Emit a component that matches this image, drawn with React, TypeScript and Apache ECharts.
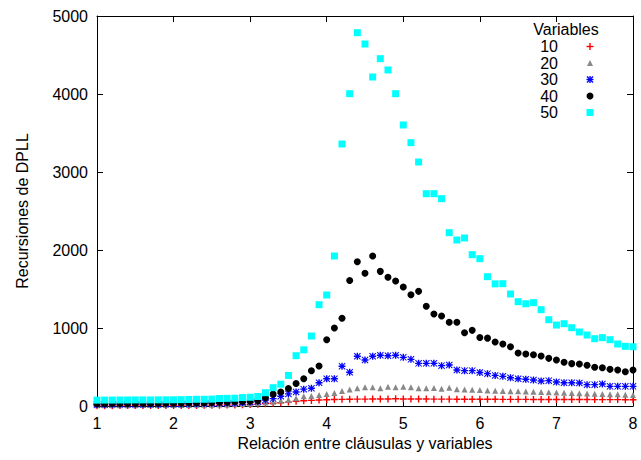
import React, { useEffect, useRef } from "react";
import * as echarts from "echarts";

const ratios = [
  1.0, 1.1, 1.2, 1.3, 1.4, 1.5, 1.6, 1.7, 1.8, 1.9,
  2.0, 2.1, 2.2, 2.3, 2.4, 2.5, 2.6, 2.7, 2.8, 2.9,
  3.0, 3.1, 3.2, 3.3, 3.4, 3.5, 3.6, 3.7, 3.8, 3.9,
  4.0, 4.1, 4.2, 4.3, 4.4, 4.5, 4.6, 4.7, 4.8, 4.9,
  5.0, 5.1, 5.2, 5.3, 5.4, 5.5, 5.6, 5.7, 5.8, 5.9,
  6.0, 6.1, 6.2, 6.3, 6.4, 6.5, 6.6, 6.7, 6.8, 6.9,
  7.0, 7.1, 7.2, 7.3, 7.4, 7.5, 7.6, 7.7, 7.8, 7.9,
  8.0,
];

const vars10 = [
  4, 4, 4, 5, 5, 5, 5, 6, 6, 6,
  7, 7, 8, 8, 9, 10, 11, 12, 14, 16,
  20, 24, 30, 36, 42, 50, 60, 68, 72, 76,
  80, 83, 85, 86, 88, 88, 89, 89, 90, 92,
  90, 90, 89, 89, 88, 88, 88, 87, 87, 87,
  86, 86, 86, 85, 85, 85, 85, 84, 84, 84,
  84, 83, 83, 83, 83, 82, 82, 82, 82, 81,
  81,
];

const vars20 = [
  10, 10, 10, 11, 11, 11, 12, 12, 12, 13,
  13, 14, 14, 15, 16, 17, 18, 20, 22, 25,
  30, 36, 45, 55, 70, 80, 100, 125, 128, 141,
  154, 167, 192, 212, 227, 239, 239, 227, 248, 239,
  248, 239, 227, 227, 231, 222, 235, 216, 212, 209,
  205, 200, 197, 193, 190, 188, 185, 182, 180, 175,
  172, 170, 168, 165, 160, 158, 155, 152, 150, 145,
  142,
];

const vars30 = [
  20, 20, 21, 21, 22, 22, 23, 23, 24, 25,
  26, 27, 28, 30, 32, 34, 36, 38, 40, 44,
  50, 58, 77, 95, 125, 155, 180, 216, 227, 299,
  350, 350, 509, 432, 637, 590, 637, 650, 645, 650,
  624, 598, 547, 547, 547, 517, 526, 462, 453, 453,
  430, 415, 392, 380, 363, 350, 342, 333, 320, 325,
  308, 299, 299, 295, 274, 274, 282, 252, 252, 252,
  252,
];

const vars40 = [
  30, 30, 31, 31, 32, 32, 33, 33, 34, 35,
  36, 37, 38, 40, 42, 44, 47, 50, 54, 58,
  62, 70, 105, 152, 180, 225, 288, 350, 453, 513,
  850, 1000, 1124, 1609, 1850, 1701, 1923, 1726, 1650, 1603,
  1526, 1427, 1470, 1278, 1179, 1154, 1073, 1073, 940, 970,
  878, 870, 821, 795, 760, 679, 667, 658, 641, 611,
  590, 560, 543, 538, 522, 496, 491, 470, 462, 440,
  462,
];

const vars50 = [
  75, 76, 76, 77, 77, 78, 78, 78, 79, 79,
  80, 81, 83, 86, 86, 88, 96, 98, 100, 108,
  112, 122, 170, 235, 280, 392, 645, 720, 897, 1299,
  1423, 1923, 3359, 4004, 4786, 4641, 4218, 4453, 4308, 4004,
  3603, 3376, 3128, 2722, 2722, 2658, 2222, 2128, 2154, 1940,
  1889, 1658, 1566, 1568, 1436, 1337, 1311, 1325, 1235, 1106,
  1038, 1055, 1004, 949, 910, 863, 876, 850, 795, 765,
  760,
];

const seriesNames = ["10", "20", "30", "40", "50"];
const xTicks = [1, 2, 3, 4, 5, 6, 7, 8];
const yTicks = [0, 1000, 2000, 3000, 4000, 5000];

const FONT = "'Liberation Sans', Arial, sans-serif";
const PLUS = "path://M4,0L6,0L6,4L10,4L10,6L6,6L6,10L4,10L4,6L0,6L0,4L4,4Z";
const STAR =
  "path://M0,4L10,4L10,6L0,6Z M4,0L6,0L6,10L4,10Z M1,0L10,9L9,10L0,1Z M9,0L10,1L1,10L0,9Z";

export default function App() {
  const ref = useRef<HTMLDivElement>(null);

  useEffect(() => {
    if (!ref.current) return;
    const chart = echarts.init(ref.current, undefined, { renderer: "svg" });
    const pair = (ys: number[]) => ratios.map((x, i) => [x, ys[i]]);
    const allData = [vars10, vars20, vars30, vars40, vars50];
    const symbols = [PLUS, "triangle", STAR, "circle", "rect"];
    const sizes = [7, 6, 7, 7, 7];
    const colors = ["#ff0000", "#888888", "#0000ff", "#000000", "#00ffff"];

    const axisCommon = {
      type: "value" as const,
      axisLine: { show: true, onZero: false, lineStyle: { color: "#000", width: 1 } },
      axisTick: { show: true, inside: true, length: 6, lineStyle: { color: "#000" } },
      splitLine: { show: false },
    };

    // Legend (gnuplot style: right-aligned label, marker to its right)
    const legTextX = 558;
    const legMarkX = 590;
    const legY0 = 46.5;
    const legStep = 16.5;
    const legendGraphics: any[] = [
      {
        type: "text",
        x: 566,
        y: 29.5,
        style: {
          text: "Variables",
          fontSize: 16,
          fill: "#000",
          fontFamily: FONT,
          align: "center",
          verticalAlign: "middle",
          lineHeight: 14,
        },
      },
    ];
    seriesNames.forEach((name, k) => {
      const cy = legY0 + k * legStep;
      legendGraphics.push({
        type: "text",
        x: legTextX,
        y: cy,
        style: {
          text: name,
          fontSize: 16,
          fill: "#000",
          fontFamily: FONT,
          align: "right",
          verticalAlign: "middle",
          lineHeight: 14,
        },
      });
      const c = colors[k];
      if (k === 0) {
        legendGraphics.push(
          { type: "line", shape: { x1: legMarkX - 3.5, y1: cy, x2: legMarkX + 3.5, y2: cy }, style: { stroke: c, lineWidth: 1.4 } },
          { type: "line", shape: { x1: legMarkX, y1: cy - 3.5, x2: legMarkX, y2: cy + 3.5 }, style: { stroke: c, lineWidth: 1.4 } }
        );
      } else if (k === 1) {
        legendGraphics.push({
          type: "polygon",
          shape: { points: [[legMarkX, cy - 3], [legMarkX + 3, cy + 3], [legMarkX - 3, cy + 3]] },
          style: { fill: c },
        });
      } else if (k === 2) {
        legendGraphics.push(
          { type: "line", shape: { x1: legMarkX - 3.5, y1: cy, x2: legMarkX + 3.5, y2: cy }, style: { stroke: c, lineWidth: 1.4 } },
          { type: "line", shape: { x1: legMarkX, y1: cy - 3.5, x2: legMarkX, y2: cy + 3.5 }, style: { stroke: c, lineWidth: 1.4 } },
          { type: "line", shape: { x1: legMarkX - 3, y1: cy - 3, x2: legMarkX + 3, y2: cy + 3 }, style: { stroke: c, lineWidth: 1.4 } },
          { type: "line", shape: { x1: legMarkX - 3, y1: cy + 3, x2: legMarkX + 3, y2: cy - 3 }, style: { stroke: c, lineWidth: 1.4 } }
        );
      } else if (k === 3) {
        legendGraphics.push({ type: "circle", shape: { cx: legMarkX, cy, r: 3.5 }, style: { fill: c } });
      } else {
        legendGraphics.push({ type: "rect", shape: { x: legMarkX - 3.5, y: cy - 3.5, width: 7, height: 7 }, style: { fill: c } });
      }
    });

    chart.setOption({
      animation: false,
      backgroundColor: "#fff",
      textStyle: { fontFamily: FONT },
      grid: { left: 97, right: 8, top: 16, bottom: 54 },
      xAxis: [
        {
          ...axisCommon,
          min: xTicks[0],
          max: xTicks[xTicks.length - 1],
          interval: 1,
          name: "Relación entre cláusulas y variables",
          nameLocation: "middle",
          nameGap: 28,
          nameTextStyle: { fontSize: 16, color: "#000", fontFamily: FONT },
          axisLabel: {
            fontSize: 16,
            color: "#000",
            margin: 9,
            fontFamily: FONT,
            formatter: (v: number) => String(v),
          },
        },
        {
          ...axisCommon,
          position: "top",
          min: xTicks[0],
          max: xTicks[xTicks.length - 1],
          interval: 1,
          axisLabel: { show: false },
        },
      ],
      yAxis: [
        {
          ...axisCommon,
          min: yTicks[0],
          max: yTicks[yTicks.length - 1],
          interval: 1000,
          name: "Recursiones de DPLL",
          nameLocation: "middle",
          nameGap: 67,
          nameTextStyle: { fontSize: 16, color: "#000", fontFamily: FONT },
          axisLabel: {
            fontSize: 16,
            color: "#000",
            margin: 9,
            fontFamily: FONT,
            formatter: (v: number) => String(v),
          },
        },
        {
          ...axisCommon,
          position: "right",
          min: yTicks[0],
          max: yTicks[yTicks.length - 1],
          interval: 1000,
          axisLabel: { show: false },
        },
      ],
      graphic: legendGraphics,
      series: seriesNames.map((name, k) => ({
        name,
        type: "scatter",
        xAxisIndex: 0,
        yAxisIndex: 0,
        data: pair(allData[k]),
        symbol: symbols[k],
        symbolSize: sizes[k],
        itemStyle: { color: colors[k], opacity: 1 },
        emphasis: { disabled: true },
      })),
    });

    return () => chart.dispose();
  }, []);

  return <div ref={ref} style={{ width: 641, height: 460, position: "absolute", left: 0, top: 0 }} />;
}
